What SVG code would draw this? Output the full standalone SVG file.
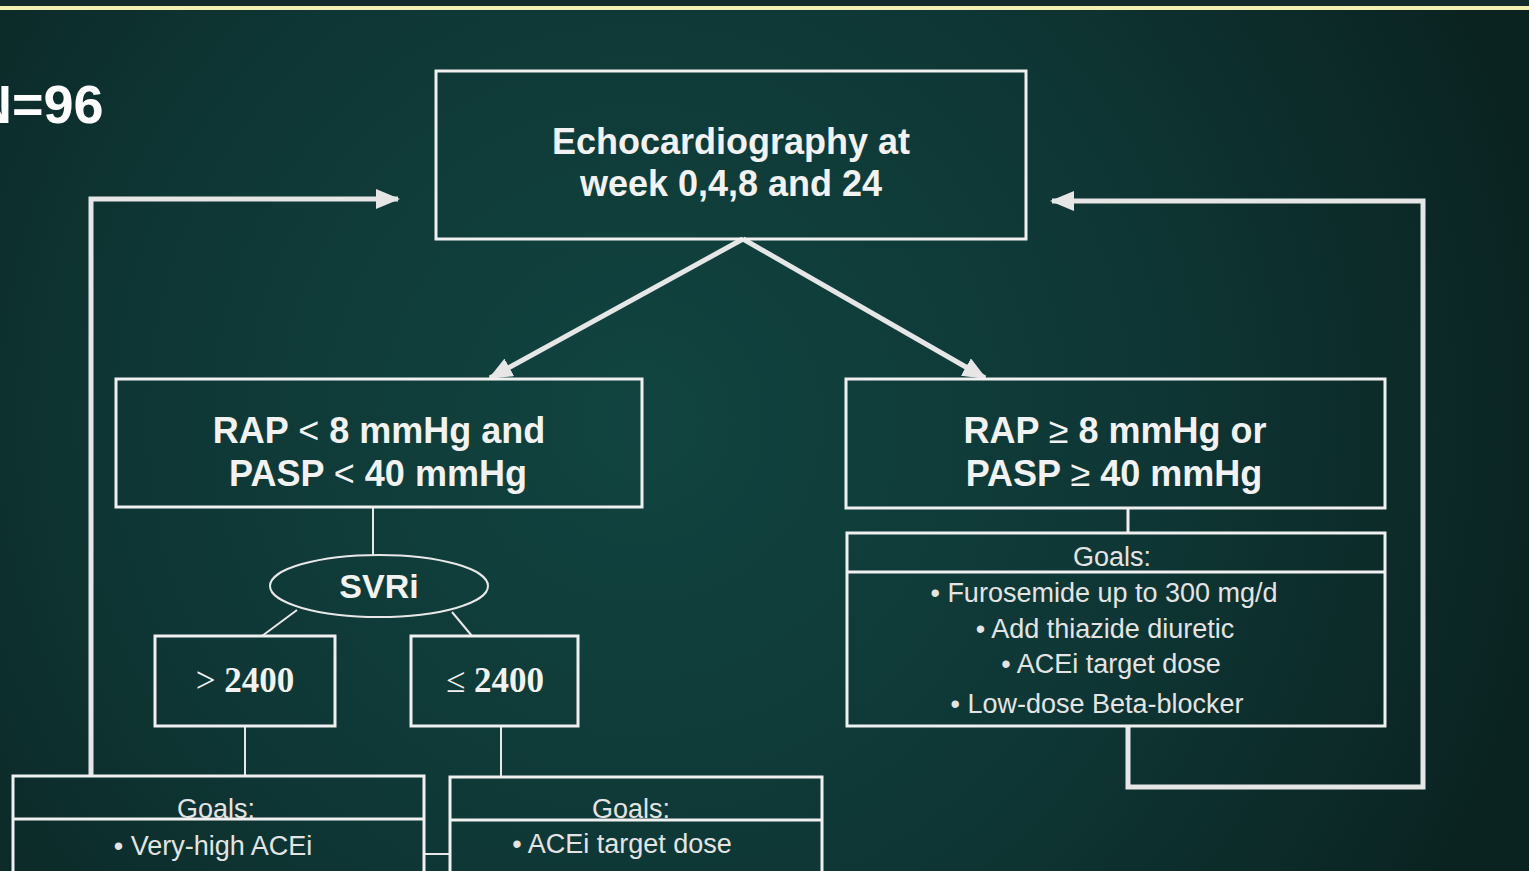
<svg xmlns="http://www.w3.org/2000/svg" width="1529" height="871" viewBox="0 0 1529 871">
<defs>
<radialGradient id="bg" cx="640" cy="420" r="950" gradientUnits="userSpaceOnUse">
<stop offset="0" stop-color="#114440"/>
<stop offset="0.55" stop-color="#0e3634"/>
<stop offset="1" stop-color="#0a2220"/>
</radialGradient>
<marker id="ah" viewBox="0 0 12 10" refX="11" refY="5" markerWidth="4.8" markerHeight="4" orient="auto" markerUnits="strokeWidth">
<path d="M0,0 L12,5 L0,10 z" fill="#e6e6e6"/>
</marker>
</defs>
<style>
.box{fill:none;stroke:#f0f0f0;stroke-width:3}
.thin{fill:none;stroke:#e8e8e8;stroke-width:2}
.arrow{fill:none;stroke:#e6e6e6;stroke-width:5}
.h{font-family:"Liberation Sans",Arial,sans-serif;font-weight:bold;font-size:36px;fill:#f2f2f2;text-anchor:middle}
.lt{font-weight:normal}
.num{font-family:"Liberation Serif","Times New Roman",serif;font-weight:bold;font-size:35px;fill:#f2f2f2;text-anchor:middle}
.g{font-family:"Liberation Sans",Arial,sans-serif;font-size:27px;fill:#e4e4e4;text-anchor:middle}
</style>
<rect width="1529" height="871" fill="url(#bg)"/>
<rect width="1529" height="7" fill="#142a2b"/>
<rect y="6" width="1529" height="4" fill="#f4f0b4"/>

<text x="-27" y="123" font-family="Liberation Sans,Arial,sans-serif" font-weight="bold" font-size="54" fill="#ffffff">N=96</text>

<g id="connectors">
<polyline class="arrow" points="91,775 91,199 398,199" marker-end="url(#ah)"/>
<polyline class="arrow" points="1128,727 1128,787 1423,787 1423,201 1052,201" marker-end="url(#ah)"/>
<line class="arrow" x1="743" y1="239" x2="490" y2="378" marker-end="url(#ah)"/>
<line class="arrow" x1="743" y1="239" x2="985" y2="378" marker-end="url(#ah)"/>
<line class="thin" x1="373" y1="508" x2="373" y2="556"/>
<line class="thin" x1="297" y1="610" x2="262" y2="636"/>
<line class="thin" x1="452" y1="612" x2="472" y2="636"/>
<line class="thin" x1="245" y1="726" x2="245" y2="776"/>
<line class="thin" x1="501" y1="726" x2="501" y2="777"/>
<line class="box" x1="1128" y1="508" x2="1128" y2="533"/>
<line class="thin" x1="424" y1="854" x2="450" y2="854"/>
</g>

<g id="echo">
<rect class="box" x="436" y="71" width="590" height="168"/>
<text class="h" x="731" y="154">Echocardiography at</text>
<text class="h" x="731" y="196">week 0,4,8 and 24</text>
</g>

<g id="low">
<rect class="box" x="116" y="379" width="526" height="128"/>
<text class="h" x="379" y="443">RAP <tspan class="lt">&lt;</tspan> 8 mmHg and</text>
<text class="h" x="378" y="486">PASP <tspan class="lt">&lt;</tspan> 40 mmHg</text>
</g>

<g id="high">
<rect class="box" x="846" y="379" width="539" height="129"/>
<text class="h" x="1115" y="443">RAP <tspan class="lt">≥</tspan> 8 mmHg or</text>
<text class="h" x="1114" y="486">PASP <tspan class="lt">≥</tspan> 40 mmHg</text>
</g>

<g id="svri">
<ellipse class="thin" cx="379" cy="586" rx="109" ry="31"/>
<text class="h" x="379" y="598" style="font-size:34px">SVRi</text>
</g>

<g id="gt2400">
<rect class="box" x="155" y="636" width="180" height="90"/>
<text class="num" x="245" y="692"><tspan font-weight="normal">&gt;</tspan> 2400</text>
</g>

<g id="le2400">
<rect class="box" x="411" y="636" width="167" height="90"/>
<text class="num" x="495" y="692"><tspan font-weight="normal">≤</tspan> 2400</text>
</g>

<g id="goals-high">
<rect class="box" x="847" y="533" width="538" height="193"/>
<line class="box" x1="847" y1="572" x2="1385" y2="572"/>
<text class="g" x="1112" y="566">Goals:</text>
<text class="g" x="1104" y="602">• Furosemide up to 300 mg/d</text>
<text class="g" x="1105" y="638">• Add thiazide diuretic</text>
<text class="g" x="1111" y="673">• ACEi target dose</text>
<text class="g" x="1097" y="713">• Low-dose Beta-blocker</text>
</g>

<g id="goals-gt">
<rect class="box" x="13" y="776" width="411" height="120"/>
<line class="box" x1="13" y1="819" x2="424" y2="819"/>
<text class="g" x="216" y="818">Goals:</text>
<text class="g" x="213" y="855">• Very-high ACEi</text>
</g>

<g id="goals-le">
<rect class="box" x="450" y="777" width="372" height="120"/>
<line class="box" x1="450" y1="820" x2="822" y2="820"/>
<text class="g" x="631" y="818">Goals:</text>
<text class="g" x="622" y="853">• ACEi target dose</text>
</g>
</svg>
